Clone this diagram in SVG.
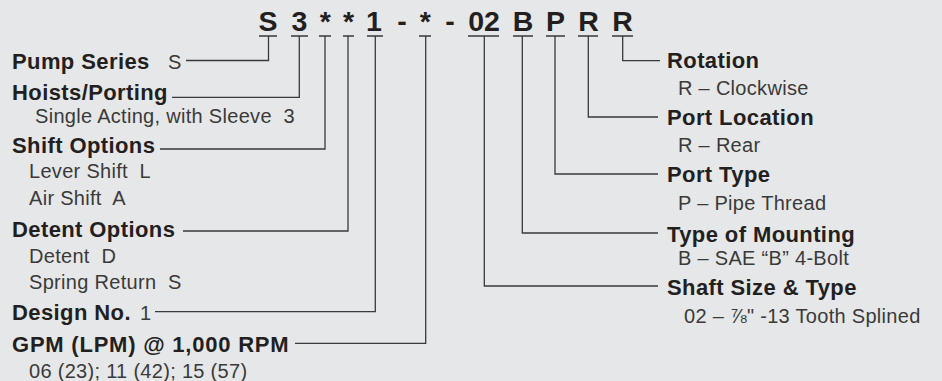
<svg xmlns="http://www.w3.org/2000/svg" width="942" height="381" viewBox="0 0 942 381">
<style>
.code{font-family:"Liberation Sans",Arial,sans-serif;font-weight:bold;font-size:28.5px;fill:#231f20;text-anchor:middle}
.h{font-family:"Liberation Sans",Arial,sans-serif;font-weight:bold;font-size:22px;fill:#231f20;letter-spacing:0.4px}
.t{font-family:"Liberation Sans",Arial,sans-serif;font-size:20px;fill:#3a3a3a;letter-spacing:0.3px}
.ln{fill:none;stroke:#3a3a3a;stroke-width:1.3}
</style>
<rect width="942" height="381" fill="#e6e7e8"/>
<g id="code">
<text class="code" x="268" y="30.5">S</text>
<text class="code" x="299.5" y="30.5">3</text>
<text class="code" x="325.3" y="30.5">*</text>
<text class="code" x="348.5" y="30.5">*</text>
<text class="code" x="374" y="30.5">1</text>
<text class="code" x="402" y="30.5">-</text>
<text class="code" x="425.3" y="30.5">*</text>
<text class="code" x="450" y="30.5">-</text>
<text class="code" x="484" y="30.5">02</text>
<text class="code" x="523" y="30.5">B</text>
<text class="code" x="555.5" y="30.5">P</text>
<text class="code" x="588.5" y="30.5">R</text>
<text class="code" x="622.5" y="30.5">R</text>
</g>
<g id="connectors">
<path class="ln" d="M259 36H277M268.5 36V60.5H186"/>
<path class="ln" d="M291 36H308M299.3 36V97.3H172"/>
<path class="ln" d="M319 36H331M325 36V149H160"/>
<path class="ln" d="M343 36H354M348 36V231H183"/>
<path class="ln" d="M367 36H383M375.3 36V311.7H155"/>
<path class="ln" d="M419 36H431M425.7 36V343.3H295"/>
<path class="ln" d="M468 36H499M484.3 36V286H658"/>
<path class="ln" d="M513 36H533M522.3 36V233H658"/>
<path class="ln" d="M546 36H565M555 36V174H658"/>
<path class="ln" d="M578 36H598M588.3 36V117H658"/>
<path class="ln" d="M612 36H633M622.7 36V60.7H660"/>
</g>
<g id="pump-series">
<text class="h" x="12" y="69">Pump Series</text>
<text class="t" x="168" y="69">S</text>
</g>
<g id="hoists-porting">
<text class="h" x="12" y="100">Hoists/Porting</text>
<text class="t" x="35" y="122.5" xml:space="preserve">Single Acting, with Sleeve  3</text>
</g>
<g id="shift-options">
<text class="h" x="12" y="152.7">Shift Options</text>
<text class="t" x="29" y="178.3" xml:space="preserve">Lever Shift  L</text>
<text class="t" x="29" y="205" xml:space="preserve">Air Shift  A</text>
</g>
<g id="detent-options">
<text class="h" x="12" y="236.7">Detent Options</text>
<text class="t" x="29" y="263" xml:space="preserve">Detent  D</text>
<text class="t" x="29" y="289.3" xml:space="preserve">Spring Return  S</text>
</g>
<g id="design-no">
<text class="h" x="12" y="320">Design No.</text>
<text class="t" x="140" y="320">1</text>
</g>
<g id="gpm">
<text class="h" x="12" y="351.7" textLength="277" lengthAdjust="spacing">GPM (LPM) @ 1,000 RPM</text>
<text class="t" x="29" y="378.3">06 (23); 11 (42); 15 (57)</text>
</g>
<g id="rotation">
<text class="h" x="667" y="68.3">Rotation</text>
<text class="t" x="678" y="95">R – Clockwise</text>
</g>
<g id="port-location">
<text class="h" x="667" y="125">Port Location</text>
<text class="t" x="678" y="152">R – Rear</text>
</g>
<g id="port-type">
<text class="h" x="667" y="182">Port Type</text>
<text class="t" x="678" y="210">P – Pipe Thread</text>
</g>
<g id="type-of-mounting">
<text class="h" x="667" y="241.7">Type of Mounting</text>
<text class="t" x="678" y="265">B – SAE “B” 4-Bolt</text>
</g>
<g id="shaft-size">
<text class="h" x="667" y="295">Shaft Size &amp; Type</text>
<text class="t" x="684" y="322.7">02 – ⅞" -13 Tooth Splined</text>
</g>
</svg>
